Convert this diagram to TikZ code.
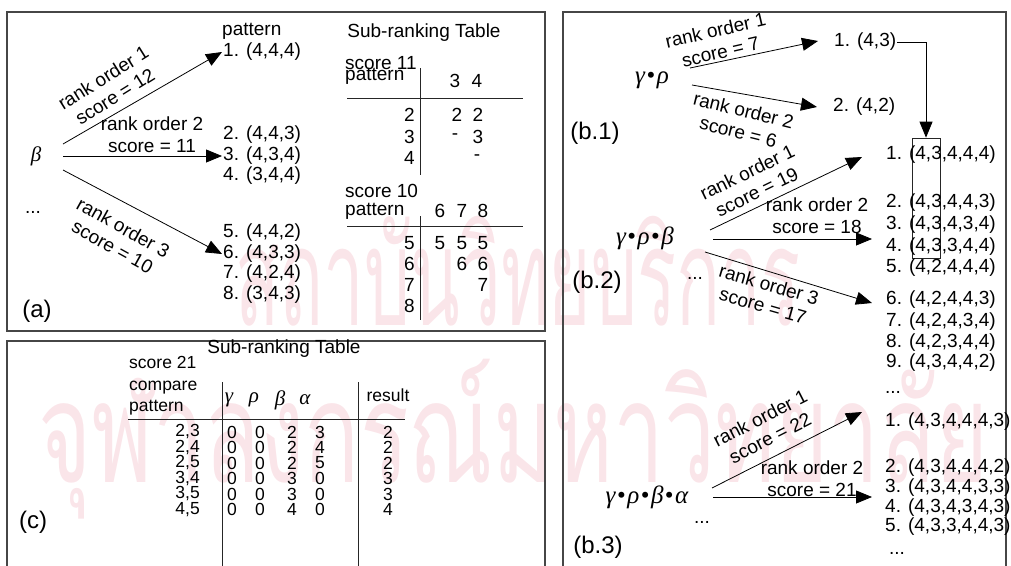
\documentclass[tikz,border=0pt]{standalone}
\usepackage{fontspec}
\setmainfont{Liberation Sans}
\newfontfamily\grk{Liberation Serif}
\newfontfamily\thai[Script=Thai]{Loma}
\usetikzlibrary{arrows.meta}
\definecolor{wm}{RGB}{250,229,233}
\definecolor{frm}{RGB}{70,70,70}
\newcommand{\bul}{\kern1.5pt\textup{•}\kern1.5pt}
\begin{document}
\begin{tikzpicture}[x=1pt,y=-1pt,
  every node/.style={inner sep=1pt},
  tx/.style={font=\fontsize{19}{22}\selectfont},
  ts/.style={font=\fontsize{17.5}{19}\selectfont},
  lab/.style={font=\fontsize{24}{28}\selectfont},
  gk/.style={font=\fontsize{21}{22}\selectfont\grk\itshape},
  gb/.style={font=\fontsize{25}{26}\selectfont\grk\itshape},
  rl/.style={font=\fontsize{19}{22}\selectfont, align=center},
  arr/.style={-{Triangle[length=16pt,width=13pt]}, line width=0.8pt},
  panel/.style={draw=frm, line width=1.5pt},
  tl/.style={draw=black!85, line width=0.9pt}]
\useasboundingbox (0,0) rectangle (1011,565);
\clip (0,0) rectangle (1011,565);
% watermark
\node[text=wm, anchor=base west, inner sep=0pt] (wma) at (235,325) {\resizebox*{565pt}{110pt}{\thai สถาบันวิทยบริการ}};
\node[text=wm, anchor=base west, inner sep=0pt] (wmb) at (38,482) {\resizebox*{950pt}{160pt}{\thai จุฬาลงกรณ์มหาวิทยาลัย}};
% panels
\draw[panel] (7,12) rectangle (545,331);
\draw[panel] (7,341) rectangle (545,575);
\draw[panel] (563,12) rectangle (1006,575);

% ---------------- (a)
\node[gk] (beta) at (36,156) {β};
\node[tx] (adots) at (33,212) {...};
\node[lab] (la) at (37,311) {(a)};
\node[tx,anchor=west] (apat) at (221,31) {pattern};
\node[tx,anchor=west] (p1) at (222,52) {1. (4,4,4)};
\node[tx,anchor=west] (p2) at (222,135) {2. (4,4,3)};
\node[tx,anchor=west] (p3) at (222,156) {3. (4,3,4)};
\node[tx,anchor=west] (p4) at (222,176) {4. (3,4,4)};
\node[tx,anchor=west] (p5) at (222,233) {5. (4,4,2)};
\node[tx,anchor=west] (p6) at (222,254) {6. (4,3,3)};
\node[tx,anchor=west] (p7) at (222,274) {7. (4,2,4)};
\node[tx,anchor=west] (p8) at (222,295) {8. (3,4,3)};
\coordinate (a1s) at (63,144);
\coordinate (a2s) at (63,156);
\coordinate (a3s) at (63,170);
\draw[arr] (a1s) -- (p1.west);
\draw[arr] (a2s) -- (p3.west);
\draw[arr] (a3s) -- (p6.west);
\node[rl,rotate=32] (la1) at (109,87) {rank order 1\\score = 12};
\node[rl] (la2) at (152,135) {rank order 2\\score = 11};
\node[rl,rotate=-29] (la3) at (118,237) {rank order 3\\score = 10};

% sub-ranking table (a)
\node[tx] (st1) at (424,33) {Sub-ranking Table};
\node[tx,anchor=west] (s11) at (344,63) {score 11};
\node[tx,anchor=west] (pt11) at (344,76) {pattern};
\draw[tl] (420,68) -- (420,175);
\draw[tl] (347,98) -- (523,98);
\node[tx] (h3) at (455,81) {3};
\node[tx] (h4) at (477,81) {4};
\node[tx,anchor=east] (r2) at (416,115) {2};
\node[tx,anchor=east] (r3) at (416,137) {3};
\node[tx,anchor=east] (r4) at (416,158) {4};
\node[tx] (v2a) at (457,115) {2};
\node[tx] (v2b) at (478,115) {2};
\node[tx] (v3a) at (455,137) {-};
\node[tx] (v3b) at (478,137) {3};
\node[tx] (v4b) at (477,158) {-};
\node[tx,anchor=west] (s10) at (344,191) {score 10};
\node[tx,anchor=west] (pt10) at (344,211) {pattern};
\draw[tl] (420,216) -- (420,320);
\draw[tl] (347,226) -- (523,226);
\node[tx] (h6) at (440,211) {6};
\node[tx] (h7) at (462,211) {7};
\node[tx] (h8) at (483,211) {8};
\node[tx,anchor=east] (r5) at (416,243) {5};
\node[tx,anchor=east] (r6) at (416,264) {6};
\node[tx,anchor=east] (r7) at (416,285) {7};
\node[tx,anchor=east] (r8) at (416,306) {8};
\node[tx] (w5a) at (440,243) {5};
\node[tx] (w5b) at (462,243) {5};
\node[tx] (w5c) at (483,243) {5};
\node[tx] (w6b) at (462,264) {6};
\node[tx] (w6c) at (483,264) {6};
\node[tx] (w7c) at (483,285) {7};

% ---------------- (c)
\node[lab] (lc) at (33,522) {(c)};
\node[tx] (st2) at (284,349) {Sub-ranking Table};
\node[ts,anchor=west] (s21) at (128,362) {score 21};
\node[ts,anchor=west] (cmp) at (128,388) {compare};
\node[ts,anchor=west] (cpat) at (128,408) {pattern};
\draw[tl] (128,419) -- (405,419);
\draw[tl] (222,382) -- (222,575);
\draw[tl] (358,382) -- (358,575);
\node[gk] (cg) at (229,400) {γ};
\node[gk] (cr) at (254,400) {ρ};
\node[gk] (cb) at (280,400) {β};
\node[gk] (ca) at (305,400) {α};
\node[ts] (cres) at (388,395) {result};
\foreach \i/\lbl/\a/\b/\c/\d/\r [count=\n] in
  {432/{2,3}/0/0/2/3/2, 447.5/{2,4}/0/0/2/4/2, 463/{2,5}/0/0/2/5/2,
   478.5/{3,4}/0/0/3/0/3, 494/{3,5}/0/0/3/0/3, 509.5/{4,5}/0/0/4/0/4}{
  \node[ts,anchor=east] (cl\n) at (201,\i) {\lbl};
  \node[ts] (ca\n) at (232,\i) {\a};
  \node[ts] (cb\n) at (260,\i) {\b};
  \node[ts] (cc\n) at (292,\i) {\c};
  \node[ts] (cd\n) at (320,\i) {\d};
  \node[ts] (ce\n) at (388,\i) {\r};
}

% ---------------- (b)
\node[lab] (lb1) at (595,133) {(b.1)};
\node[lab] (lb2) at (597,282) {(b.2)};
\node[lab] (lb3) at (598,547) {(b.3)};
\node[gb] (g1) at (652,80) {γ\bul ρ};
\node[gb] (g2) at (645,238) {γ\bul ρ\bul β};
\node[gb] (g3) at (647,497) {γ\bul ρ\bul β\bul α};

% b.1
\node[tx,anchor=west] (q1) at (833,42) {1. (4,3)};
\node[tx,anchor=west] (q2) at (832,107) {2. (4,2)};
\coordinate (b11s) at (690,68);
\coordinate (b11e) at (818,41);
\coordinate (b12s) at (692,85);
\coordinate (b12e) at (817,107);
\draw[arr] (b11s) -- (b11e);
\draw[arr] (b12s) -- (b12e);
\node[rl,rotate=13] (lq1) at (718,41) {rank order 1\\score = 7};
\node[rl,rotate=-14] (lq2) at (741,121) {rank order 2\\score = 6};

% b.2
\node[draw=black!85, line width=0.7pt, minimum width=28pt, minimum height=120pt, inner sep=0pt] (hbox) at (926,198) {};
\draw[arr] (q1.east) -| (hbox.north);
\node[tx,anchor=west] (m1) at (885,155) {1. (4,3,4,4,4)};
\node[tx,anchor=west] (m2) at (885,203) {2. (4,3,4,4,3)};
\node[tx,anchor=west] (m3) at (885,225) {3. (4,3,4,3,4)};
\node[tx,anchor=west] (m4) at (885,247) {4. (4,3,3,4,4)};
\node[tx,anchor=west] (m5) at (885,268) {5. (4,2,4,4,4)};
\node[tx,anchor=west] (m6) at (885,300) {6. (4,2,4,4,3)};
\node[tx,anchor=west] (m7) at (885,322) {7. (4,2,4,3,4)};
\node[tx,anchor=west] (m8) at (885,343) {8. (4,2,3,4,4)};
\node[tx,anchor=west] (m9) at (885,363) {9. (4,3,4,4,2)};
\node[tx] (mdots) at (893,392) {...};
\coordinate (b21s) at (710,230);
\coordinate (b21e) at (862,157);
\coordinate (b22s) at (713,239);
\coordinate (b22e) at (872,239);
\coordinate (b23s) at (705,252);
\coordinate (b23e) at (872,303);
\draw[arr] (b21s) -- (b21e);
\draw[arr] (b22s) -- (b22e);
\draw[arr] (b23s) -- (b23e);
\node[tx] (bdots2) at (695,278) {...};
\node[rl,rotate=26] (lm1) at (752,182) {rank order 1\\score = 19};
\node[rl] (lm2) at (817,216) {rank order 2\\score = 18};
\node[rl,rotate=-16] (lm3) at (766,295) {rank order 3\\score = 17};

% b.3
\node[tx,anchor=west] (n1) at (884,422) {1. (4,3,4,4,4,3)};
\node[tx,anchor=west] (n2) at (884,468) {2. (4,3,4,4,4,2)};
\node[tx,anchor=west] (n3) at (884,488) {3. (4,3,4,4,3,3)};
\node[tx,anchor=west] (n4) at (884,508) {4. (4,3,4,3,4,3)};
\node[tx,anchor=west] (n5) at (884,527) {5. (4,3,3,4,4,3)};
\node[tx] (ndots) at (897,553) {...};
\coordinate (b31s) at (712,488);
\coordinate (b31e) at (862,412);
\coordinate (b32s) at (713,497);
\coordinate (b32e) at (872,497);
\draw[arr] (b31s) -- (b31e);
\draw[arr] (b32s) -- (b32e);
\node[tx] (bdots3) at (702,522) {...};
\node[rl,rotate=27] (ln1) at (765,428) {rank order 1\\score = 22};
\node[rl] (ln2) at (812,479) {rank order 2\\score = 21};
\end{tikzpicture}
\end{document}
